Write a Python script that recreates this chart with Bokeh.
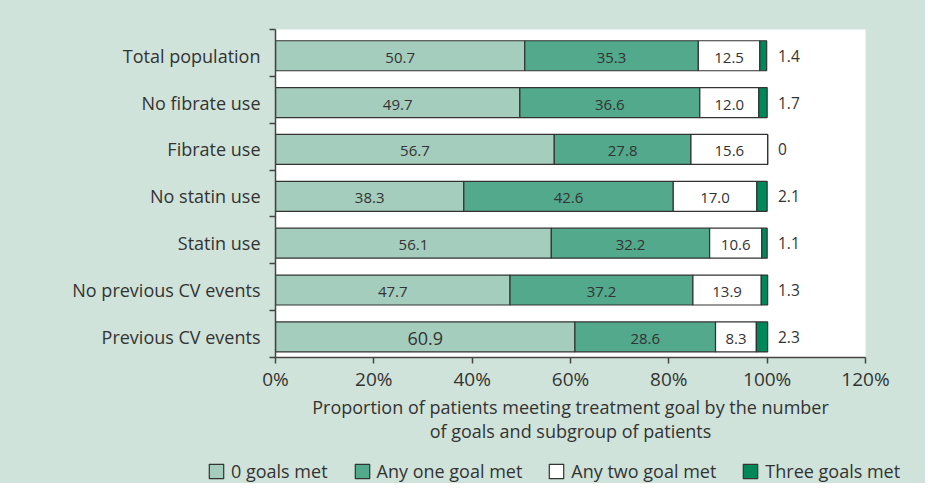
from bokeh.plotting import figure
from bokeh.layouts import column
from bokeh.models import ColumnDataSource, FixedTicker, Range1d, Legend
from bokeh.core.properties import value
from bokeh.embed import file_html
from bokeh.resources import INLINE

categories = ["Total population", "No fibrate use", "Fibrate use", "No statin use",
              "Statin use", "No previous CV events", "Previous CV events"]
zero_goals = [50.7, 49.7, 56.7, 38.3, 56.1, 47.7, 60.9]
one_goal = [35.3, 36.6, 27.8, 42.6, 32.2, 37.2, 28.6]
two_goals = [12.5, 12.0, 15.6, 17.0, 10.6, 13.9, 8.3]
three_goals = [1.4, 1.7, 0, 2.1, 1.1, 1.3, 2.3]
series_names = ["0 goals met", "Any one goal met", "Any two goal met", "Three goals met"]
x_ticks = [0, 20, 40, 60, 80, 100, 120]

FONT = "Open Sans"
BG = "#cfe3da"
colors = ["#a4cdbd", "#52a98b", "#ffffff", "#00875a"]

n = len(categories)
slot = [n - i - 0.5 for i in range(n)]
bar_y = [s - 0.06 for s in slot]

source = ColumnDataSource(dict(
    y=bar_y, zero=zero_goals, one=one_goal, two=two_goals, three=three_goals,
))

p = figure(width=925, height=456, output_backend="svg", toolbar_location=None,
           x_range=Range1d(0, 120), y_range=Range1d(0, n),
           min_border_left=275, min_border_right=60, min_border_top=29, min_border_bottom=99)
p.frame_align = False
p.background_fill_color = "white"
p.border_fill_color = BG
p.outline_line_color = None
p.xgrid.visible = False
p.ygrid.visible = False

p.hbar_stack(["zero", "one", "two", "three"], y="y", height=0.64, color=colors,
             line_color="#333333", line_width=1.2, source=source)

# segment labels
lab_x, lab_y, lab_t, lab_s = [], [], [], []
for i in range(n):
    segs = [zero_goals[i], one_goal[i], two_goals[i]]
    start = 0
    for v in segs:
        lab_x.append(start + v / 2)
        lab_y.append(bar_y[i])
        lab_t.append(f"{v:.1f}")
        lab_s.append("18px" if v > 60 else "15px")
        start += v
p.text(x=lab_x, y=lab_y, text=lab_t, text_font=value(FONT), text_font_size=lab_s,
       text_color="#333333", text_align="center", text_baseline="middle", y_offset=2)

three_labels = [f"{v:g}" if v == 0 else f"{v:.1f}" for v in three_goals]
p.text(x=[102.2] * n, y=bar_y, text=three_labels, text_font=value(FONT),
       text_font_size="15.5px", text_color="#333333", text_align="left", text_baseline="middle")

# axes
p.xaxis.ticker = FixedTicker(ticks=x_ticks)
p.xaxis.major_label_overrides = {t: f"{t}%" for t in x_ticks}
p.xaxis.major_tick_out = 6
p.xaxis.major_tick_in = 0
p.xaxis.minor_tick_line_color = None
p.xaxis.axis_line_color = "#444444"
p.xaxis.axis_line_width = 1.5
p.xaxis.major_tick_line_color = "#444444"
p.xaxis.major_tick_line_width = 1.5
p.xaxis.major_label_text_font = FONT
p.xaxis.major_label_text_font_size = "19px"
p.xaxis.major_label_text_color = "#333333"
p.xaxis.major_label_standoff = 2
p.xaxis.axis_label = "Proportion of patients meeting treatment goal by the number\nof goals and subgroup of patients"
p.xaxis.axis_label_text_font = FONT
p.xaxis.axis_label_text_font_size = "18px"
p.xaxis.axis_label_text_font_style = "normal"
p.xaxis.axis_label_text_color = "#333333"
p.xaxis.axis_label_text_line_height = 1.0
p.xaxis.axis_label_standoff = 0

p.yaxis.ticker = FixedTicker(ticks=bar_y, minor_ticks=list(range(n + 1)))
p.yaxis.major_label_overrides = {y: c for y, c in zip(bar_y, categories)}
p.yaxis.major_tick_out = 0
p.yaxis.major_tick_in = 0
p.yaxis.minor_tick_out = 6
p.yaxis.minor_tick_in = 0
p.yaxis.minor_tick_line_color = "#444444"
p.yaxis.minor_tick_line_width = 1.5
p.yaxis.axis_line_color = "#444444"
p.yaxis.axis_line_width = 1.5
p.yaxis.major_label_text_font = FONT
p.yaxis.major_label_text_font_size = "18px"
p.yaxis.major_label_text_color = "#333333"
p.yaxis.major_label_standoff = 9

# legend strip below the chart (legend-only glyphs carry no drawable data)
lg = figure(width=925, height=27, output_backend="svg", toolbar_location=None,
            x_range=Range1d(0, 1), y_range=Range1d(0, 1),
            min_border_left=0, min_border_right=0, min_border_top=0, min_border_bottom=0)
lg.frame_align = False
lg.axis.visible = False
lg.grid.visible = False
lg.outline_line_color = None
lg.background_fill_color = BG
lg.border_fill_color = BG
nan = float("nan")
legend_renderers = [lg.quad(left=[nan], right=[nan], top=[nan], bottom=[nan], fill_color=c,
                            line_color="#333333", line_width=1.2) for c in colors]
legend = Legend(items=[(name, [r]) for name, r in zip(series_names, legend_renderers)],
                orientation="horizontal", location=(207, 0))
legend.background_fill_alpha = 0
legend.border_line_color = None
legend.label_text_font = FONT
legend.label_text_font_size = "18px"
legend.label_text_color = "#333333"
legend.glyph_width = 18
legend.glyph_height = 18
legend.spacing = 25
legend.label_standoff = 6
legend.padding = 0
legend.margin = 0
lg.add_layout(legend, "center")

layout = column(p, lg, spacing=0, styles={"background-color": BG})
open("out.html", "w").write(file_html(layout, INLINE))
